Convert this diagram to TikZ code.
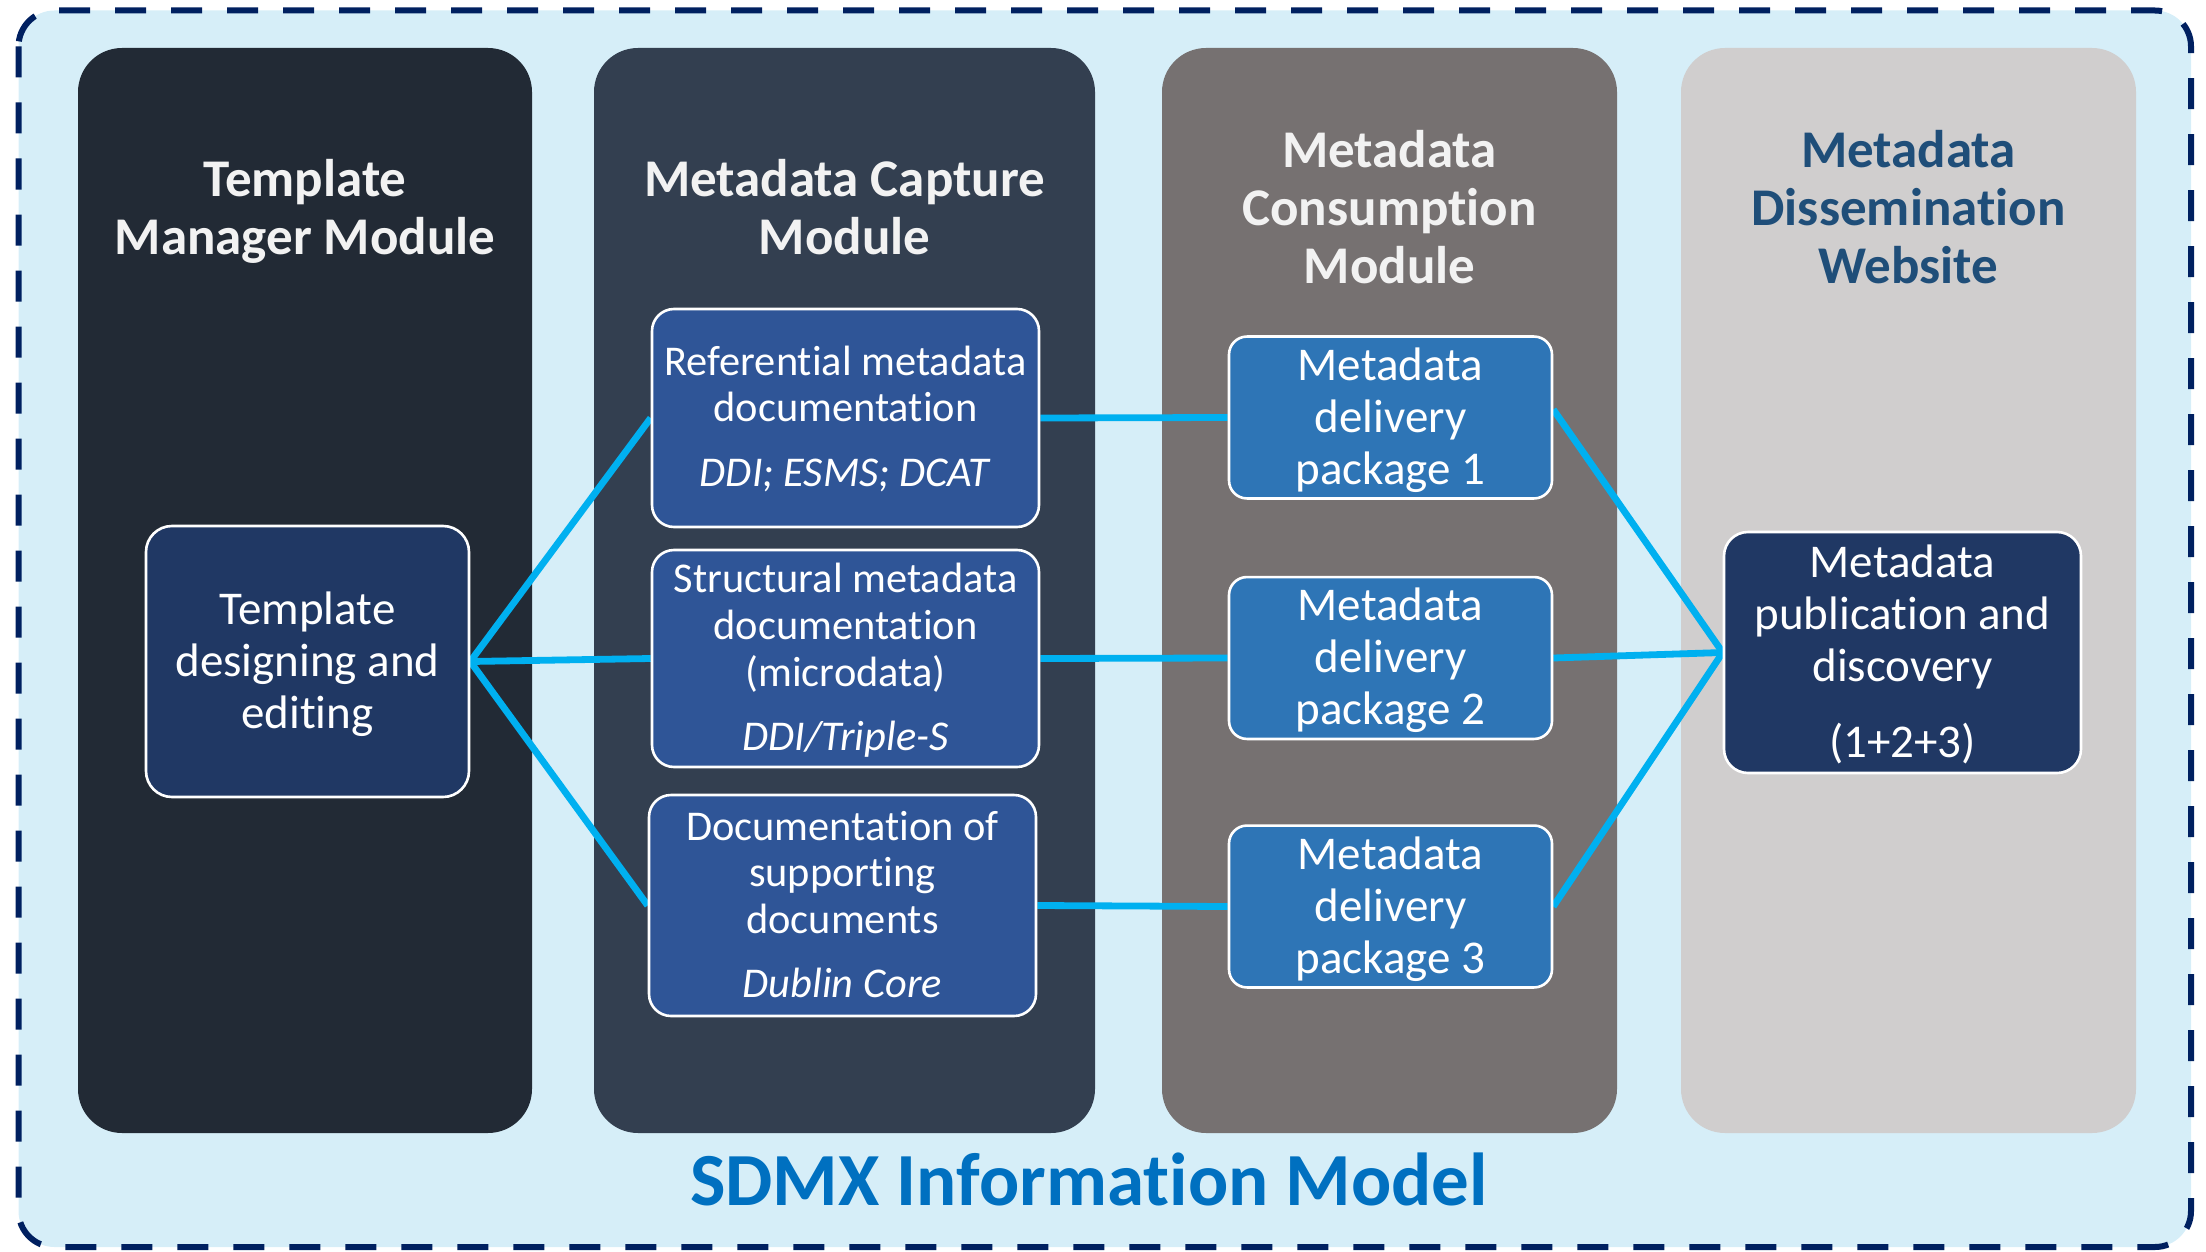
\documentclass[tikz,border=0pt]{standalone}
\usepackage{fontspec}
\setmainfont{Carlito}[RawFeature={-liga;-clig;-dlig;-calt}]
\definecolor{bgblue}{RGB}{214,238,248}
\definecolor{dashnavy}{RGB}{0,32,96}
\definecolor{panelA}{RGB}{34,42,53}
\definecolor{panelB}{RGB}{51,63,80}
\definecolor{panelC}{RGB}{118,113,113}
\definecolor{panelD}{RGB}{208,206,206}
\definecolor{navybox}{RGB}{32,56,100}
\definecolor{midbox}{RGB}{47,85,151}
\definecolor{pkgbox}{RGB}{46,117,182}
\definecolor{cyanline}{RGB}{0,176,240}
\definecolor{headblue}{RGB}{31,78,121}
\definecolor{sdmxblue}{RGB}{0,112,192}
\definecolor{headwhite}{RGB}{242,242,242}
\pgfdeclarelayer{back}
\pgfdeclarelayer{mid}
\pgfsetlayers{back,mid,main}
\newcommand{\fstrut}{\rule{0pt}{0.932em}}
\newcommand{\lstrut}{\rule[-0.3em]{0pt}{0.3em}}
\tikzset{
  head/.style={align=center,font=\bfseries\fontsize{26.5}{29}\selectfont,text=headwhite,inner sep=0pt},
  inbox/.style={draw=white,line width=1.3pt,rounded corners=11pt,align=center,text=white,inner sep=0pt},
  capbox/.style={inbox,fill=midbox,minimum width=193.5pt,minimum height=109pt},
  pkgnode/.style={inbox,fill=pkgbox,minimum width=161.5pt,minimum height=80.5pt,rounded corners=9pt,font=\fontsize{23.5}{26}\selectfont},
  link/.style={draw=cyanline,line width=3.4pt},
  panel/.style={rounded corners=22pt}
}
\begin{document}
\begin{tikzpicture}[x=0.5pt,y=-0.5pt]
\useasboundingbox (0,0) rectangle (2206,1252);
\begin{pgfonlayer}{back}
\fill[bgblue,rounded corners=18pt] (18.5,10.5) rectangle (2191,1247);
\draw[dashnavy,line width=3pt,dash pattern=on 15.5pt off 12.5pt,rounded corners=18pt] (18.5,10.5) rectangle (2191,1247);
\fill[panelA,panel] (78,48) rectangle (532,1133);
\fill[panelB,panel] (594,48) rectangle (1095,1133);
\fill[panelC,panel] (1162,48) rectangle (1617,1133);
\fill[panelD,panel] (1681,48) rectangle (2136,1133);
\end{pgfonlayer}

\node[head] (h1) at (305,209) {\fstrut Template\\Manager Module\lstrut};
\node[head] (h2) at (844.5,209) {\fstrut Metadata Capture\\Module\lstrut};
\node[head] (h3) at (1389.5,208.5) {\fstrut Metadata\\Consumption\\Module\lstrut};
\node[head,text=headblue] (h4) at (1908.5,208.5) {\fstrut Metadata\\Dissemination\\Website\lstrut};

\node[inbox,fill=navybox,minimum width=161.5pt,minimum height=135.5pt,rounded corners=13pt,font=\fontsize{23.5}{26}\selectfont] (tmpl) at (307.5,661.5) {\fstrut Template\\designing and\\editing\lstrut};

\node[capbox,font=\fontsize{21.2}{23}\selectfont] (ref) at (845.5,418) {\fstrut Referential metadata\\documentation\\[9.5pt]\textit{DDI; ESMS; DCAT}\lstrut};
\node[capbox,minimum height=108.5pt,font=\fontsize{21.2}{23.5}\selectfont] (str) at (845.5,658.5) {\fstrut Structural metadata\\documentation\\(microdata)\\[8.5pt]\textit{DDI/Triple-S}\lstrut};
\node[capbox,minimum height=110.5pt,font=\fontsize{21.2}{23.3}\selectfont] (doc) at (842.5,905.5) {\fstrut Documentation of\\supporting\\documents\\[9pt]\textit{Dublin Core}\lstrut};

\node[pkgnode] (p1) at (1390.5,417.5) {\fstrut Metadata\\delivery\\package 1\lstrut};
\node[pkgnode] (p2) at (1390.5,658) {\fstrut Metadata\\delivery\\package 2\lstrut};
\node[pkgnode] (p3) at (1390.5,906.5) {\fstrut Metadata\\delivery\\package 3\lstrut};

\node[inbox,fill=navybox,minimum width=178.5pt,minimum height=120.5pt,rounded corners=12pt,font=\fontsize{23.5}{26}\selectfont] (pub) at (1902.5,652.5) {\fstrut Metadata\\publication and\\discovery\\[12pt](1+2+3)\lstrut};

\node[font=\bfseries\fontsize{37.5}{40}\selectfont,text=sdmxblue,anchor=base,inner sep=0pt] (sdmx) at (1089,1205) {SDMX Information Model};

\begin{pgfonlayer}{mid}
\draw[link] (tmpl.east) -- (ref.west);
\draw[link] (tmpl.east) -- (str.west);
\draw[link] (tmpl.east) -- (doc.west);
\draw[link] (ref.east) -- (p1.west);
\draw[link] (str.east) -- (p2.west);
\draw[link] (doc.east) -- (p3.west);
\draw[link] ([yshift=4pt]p1.east) -- (pub.west);
\draw[link] (p2.east) -- (pub.west);
\draw[link] (p3.east) -- (pub.west);
\end{pgfonlayer}
\end{tikzpicture}
\end{document}
